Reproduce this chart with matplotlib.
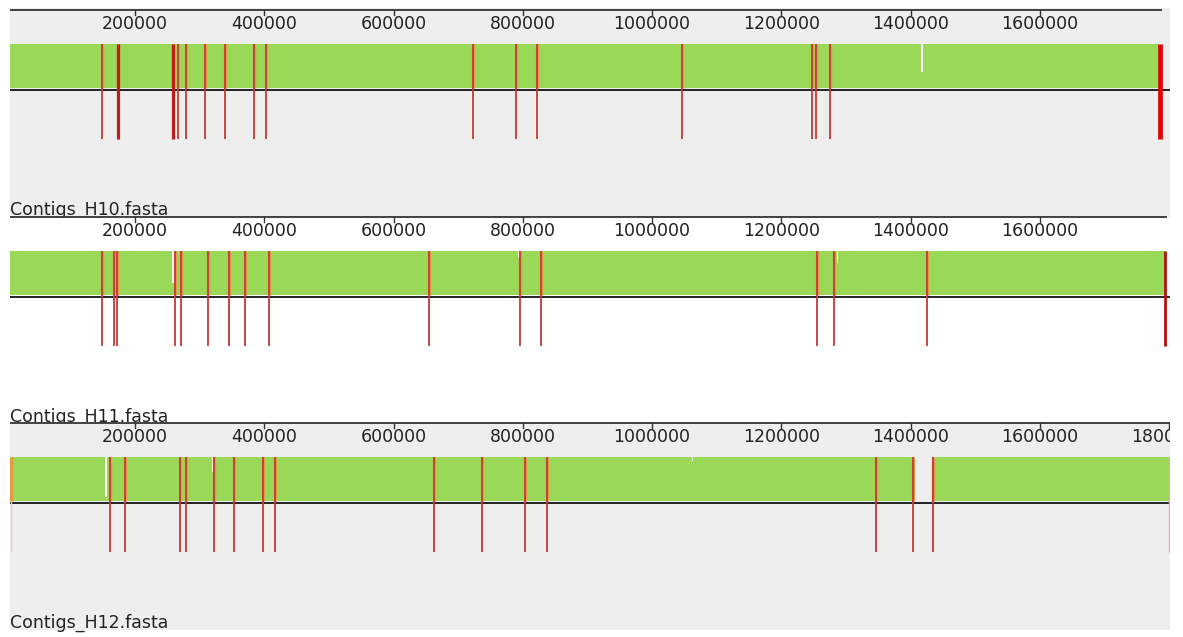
import matplotlib
matplotlib.use("Agg")
import matplotlib.pyplot as plt

# genome coordinates of the visible window
XMIN, XMAX = 6650, 1801200
TICKS = [200000, 400000, 600000, 800000, 1000000, 1200000, 1400000, 1600000, 1800000]

names = ["Contigs_H10.fasta", "Contigs_H11.fasta", "Contigs_H12.fasta"]
lengths = [1788800, 1796600, 1801200]

# block (green) extents
h10_blocks_start = [XMIN]
h10_blocks_end = [1784000]
h11_blocks_start = [XMIN]
h11_blocks_end = [1793400]
h12_blocks_start = [XMIN, 1437600]
h12_blocks_end = [1404500, 1801200]

# block boundaries (red marks)
h10_cuts = [149000, 266100, 278500, 308300, 339700, 383700, 402200, 723400,
            789000, 821500, 1046200, 1248100, 1252800, 1275700]
h10_heavy = [173700, 258400]
h10_faint = []
h10_end = 1785700

h11_cuts = [149400, 168000, 172700, 261400, 271200, 313400, 345900, 369700,
            406900, 655300, 795600, 828100, 1254600, 1281800, 1425300]
h11_heavy = []
h11_faint = []
h11_end = 1793400

h12_cuts = [161400, 185000, 269600, 278500, 322700, 353600, 397600,
            416600, 662100, 737300, 802900, 837400, 1345900, 1404100, 1435000]
h12_heavy = []
h12_faint = [8200]
h12_end = 1800100

# white gaps in the similarity profile: position, width, depth (fraction of block)
h10_gap_pos = [1416400]
h10_gap_w = [2300]
h10_gap_depth = [0.64]
h11_gap_pos = [257700, 792500, 1285500, 1427200]
h11_gap_w = [2800, 1600, 1600, 1600]
h11_gap_depth = [0.73, 0.15, 0.27, 0.40]
h12_gap_pos = [153600, 319100, 835400, 1061700]
h12_gap_w = [3500, 1500, 1500, 1500]
h12_gap_depth = [0.92, 0.35, 0.25, 0.10]

GREEN = "#99d957"
GREY_BG = "#eeeeee"

# (top px, bottom px, axis line px, background, end mark colour, end mark width)
panels = [
    (8, 217, 10, GREY_BG, "#e00000", 3.4),
    (217, 423, 217, "white", "#b01010", 2.0),
    (423, 630, 423, GREY_BG, "#f4a6a6", 1.0),
]
data = [
    (h10_blocks_start, h10_blocks_end, h10_cuts, h10_heavy, h10_faint, h10_end,
     h10_gap_pos, h10_gap_w, h10_gap_depth),
    (h11_blocks_start, h11_blocks_end, h11_cuts, h11_heavy, h11_faint, h11_end,
     h11_gap_pos, h11_gap_w, h11_gap_depth),
    (h12_blocks_start, h12_blocks_end, h12_cuts, h12_heavy, h12_faint, h12_end,
     h12_gap_pos, h12_gap_w, h12_gap_depth),
]

W, H = 1183, 637
fig = plt.figure(figsize=(W / 100, H / 100), dpi=100)

BLK_TOP, BLK_BOT, MID, CUT_BOT = 34, 78, 80, 129

for i, (top, bot, y0, bg, end_col, end_lw) in enumerate(panels):
    bstart, bend, cuts, heavy, faint, end, gpos, gw, gdepth = data[i]
    ax = fig.add_axes([10 / W, 1 - bot / H, 1160 / W, (bot - top) / H], zorder=i)
    ax.set_xlim(XMIN, XMAX)
    ax.set_ylim(bot - y0, top - y0)
    ax.set_facecolor(bg)
    for s in ax.spines.values():
        s.set_visible(False)
    ax.set_xticks([])
    ax.set_yticks([])

    # ruler
    ax.plot([XMIN, lengths[i]], [0, 0], color="#333333", lw=1.3, clip_on=False,
            solid_capstyle="butt")
    for t in TICKS:
        if t > lengths[i]:
            continue
        ax.plot([t, t], [0, 5], color="#333333", lw=1.0)
        ax.text(t, 14, str(t), ha="center", va="center", fontsize=12.5,
                color="#222222", clip_on=True)

    # similarity blocks
    for s, e in zip(bstart, bend):
        ax.fill_between([s, e], BLK_TOP, BLK_BOT, color=GREEN, lw=0)
    for p, w, d in zip(gpos, gw, gdepth):
        ax.fill_between([p, p + w], BLK_TOP, BLK_TOP + d * (BLK_BOT - BLK_TOP),
                        color="white", lw=0)

    ax.axhline(MID, color="black", lw=1.2)

    # block boundaries
    ax.vlines(cuts + heavy + faint, BLK_TOP, BLK_BOT, color="#e39a45", lw=2.4)
    ax.vlines(cuts, BLK_TOP, CUT_BOT, color="#c43a3a", lw=1.3)
    if heavy:
        ax.vlines(heavy, BLK_TOP, CUT_BOT, color="#c01c1c", lw=2.3)
    if faint:
        ax.vlines(faint, BLK_BOT, CUT_BOT, color="#f2c4c4", lw=1.0)
    ax.vlines([end], BLK_TOP, CUT_BOT, color=end_col, lw=end_lw)

    ax.text(XMIN, 205, names[i], ha="left", va="baseline", fontsize=12.5,
            color="#222222", clip_on=False)

fig.savefig("out.png", dpi=100)
